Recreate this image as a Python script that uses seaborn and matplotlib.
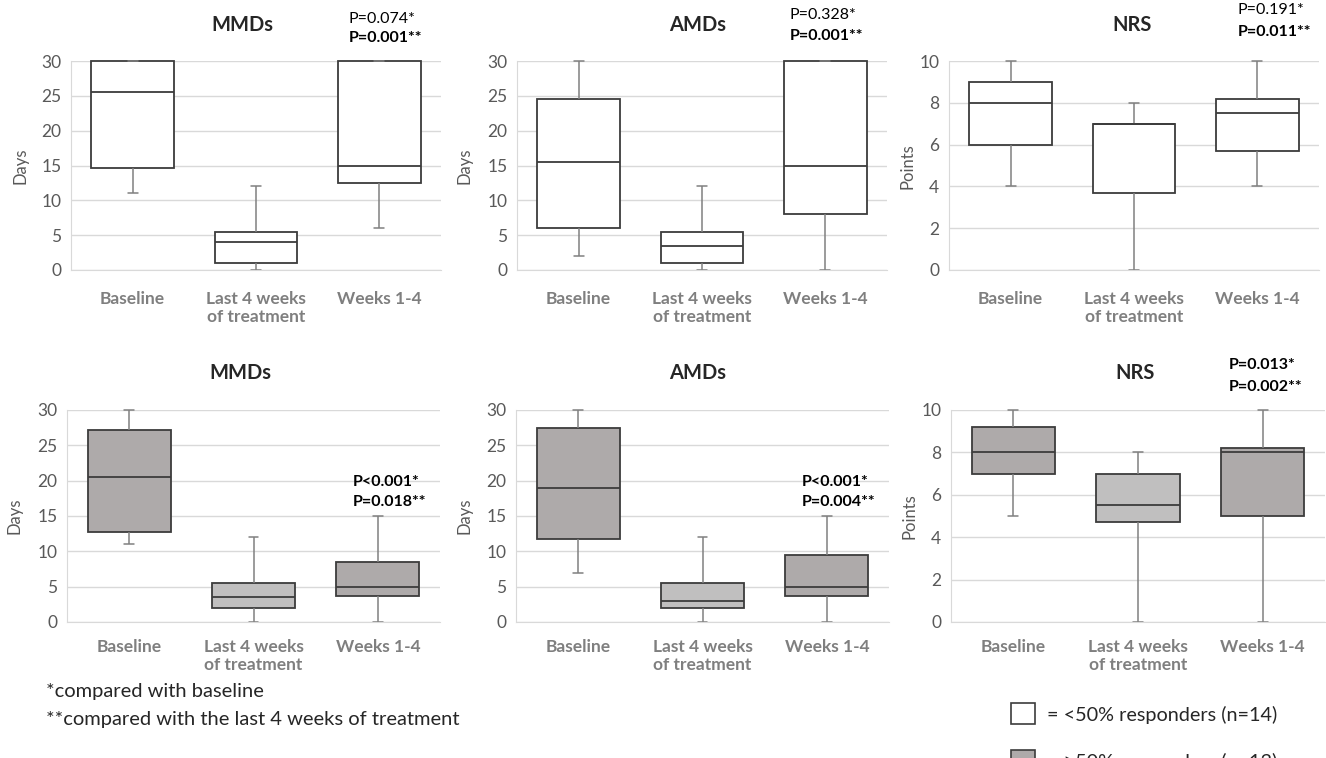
import numpy as np
import pandas as pd
import matplotlib.pyplot as plt
import matplotlib.transforms as mtransforms
from matplotlib.patches import Rectangle
import seaborn as sns

# five-number summaries: min, q1, median, q3, max
periods = ['Baseline', 'Last 4 weeks\nof treatment', 'Weeks 1-4']

low_mmd = [[11, 14.7, 25.5, 30, 30], [0, 1, 4, 5.5, 12], [6, 12.5, 15, 30, 30]]
low_amd = [[2, 6, 15.5, 24.5, 30], [0, 1, 3.5, 5.5, 12], [0, 8, 15, 30, 30]]
low_nrs = [[4, 6, 8, 9, 10], [0, 3.7, 7, 7, 8], [4, 5.7, 7.5, 8.2, 10]]

high_mmd = [[11, 12.7, 20.5, 27.2, 30], [0, 2, 3.5, 5.5, 12], [0, 3.7, 5, 8.5, 15]]
high_amd = [[7, 11.7, 19, 27.5, 30], [0, 2, 3, 5.5, 12], [0, 3.7, 5, 9.5, 15]]
high_nrs = [[5, 7, 8, 9.2, 10], [0, 4.7, 5.5, 7, 8], [0, 5, 8, 8.2, 10]]

p_top = [('P=0.074*', 'P=0.001**'), ('P=0.328*', 'P=0.001**'), ('P=0.191*', 'P=0.011**')]
p_bottom = [('P<0.001*', 'P=0.018**'), ('P<0.001*', 'P=0.004**'), ('P=0.013*', 'P=0.002**')]

titles = ['MMDs', 'AMDs', 'NRS']
ylabels = ['Days', 'Days', 'Points']


def to_long(groups):
    rows = []
    for period, vals in zip(periods, groups):
        for v in vals:
            rows.append({'period': period, 'value': v})
    return pd.DataFrame(rows)


sns.set_style('white')
plt.rcParams['font.family'] = ['Lato', 'DejaVu Sans']

fig = plt.figure(figsize=(13.26, 7.58), dpi=100)
W, H = 1326, 758


def px_axes(left, top, right, bottom):
    return fig.add_axes([left / W, 1 - bottom / H, (right - left) / W, (bottom - top) / H])


top_boxes = [(71, 61, 441, 270), (517, 61, 887, 270), (949, 61, 1319, 270)]
bot_boxes = [(67, 410, 440, 622), (516, 410, 889, 622), (951, 410, 1325, 622)]

white_pal = {p: 'white' for p in periods}
gray_pal = {periods[0]: '#aeaaaa', periods[1]: '#c0bfbf', periods[2]: '#aeaaaa'}


def draw_panel(box, groups, ymax, step, pal, pad):
    ax = px_axes(*box)
    sns.boxplot(data=to_long(groups), x='period', y='value', hue='period',
                order=periods, hue_order=periods, palette=pal, saturation=1,
                width=0.67, whis=(0, 100), linecolor='#3c3c3c', linewidth=1.3,
                whiskerprops=dict(color='#808080', linewidth=1.1),
                capprops=dict(color='#808080', linewidth=1.1),
                capwidths=0.08, showfliers=False, legend=False, ax=ax)
    for art in ax.lines + ax.patches:
        art.set_clip_on(False)
    ax.set_ylim(0, ymax)
    ax.set_xlim(-0.5, 2.5)
    ax.set_yticks(np.arange(0, ymax + 0.1, step))
    ax.set_xlabel('')
    ax.set_ylabel('')
    ax.yaxis.grid(True, color='#d9d9d9', linewidth=1)
    ax.set_axisbelow(True)
    for s in ['top', 'right']:
        ax.spines[s].set_visible(False)
    for s in ['left', 'bottom']:
        ax.spines[s].set_color('#d9d9d9')
    ax.tick_params(axis='y', length=0, labelsize=12.5, labelcolor='#595959', pad=7)
    ax.tick_params(axis='x', length=0, labelsize=12.5, labelcolor='#7f7f7f', pad=pad)
    for lab in ax.get_xticklabels():
        lab.set_fontweight('bold')
    return ax


def add_p(ax, x, y1, y2, texts, bold_first):
    tr = mtransforms.blended_transform_factory(ax.transData, ax.transAxes)
    ax.text(x, y1, texts[0], transform=tr, ha='left', va='center', fontsize=11.5,
            fontweight='bold' if bold_first else 'normal', color='black')
    ax.text(x, y2, texts[1], transform=tr, ha='left', va='center', fontsize=11.5,
            fontweight='bold', color='black')


top_groups = [low_mmd, low_amd, low_nrs]
bot_groups = [high_mmd, high_amd, high_nrs]
ymaxes = [30, 30, 10]
steps = [5, 5, 2]

top_title_x = [242, 698, 1132]
bot_title_x = [240, 698, 1135]
top_ylab_x = [20, 465, 908]
bot_ylab_x = [15, 465, 910]

top_p_pos = [(1.75, 1.20, 1.11), (1.71, 1.22, 1.12), (1.84, 1.244, 1.139)]
bot_p_pos = [(1.80, 0.66, 0.566), (1.80, 0.66, 0.566), (1.73, 1.212, 1.108)]

for i in range(3):
    ax = draw_panel(top_boxes[i], top_groups[i], ymaxes[i], steps[i], white_pal, 15)
    add_p(ax, *top_p_pos[i], p_top[i], bold_first=False)
    fig.text(top_title_x[i] / W, 1 - 25 / H, titles[i], ha='center', va='center',
             fontsize=14.5, fontweight='bold')
    fig.text(top_ylab_x[i] / W, 1 - 166 / H, ylabels[i], rotation=90, ha='center',
             va='center', fontsize=12, color='#595959')

    ax = draw_panel(bot_boxes[i], bot_groups[i], ymaxes[i], steps[i], gray_pal, 12)
    add_p(ax, *bot_p_pos[i], p_bottom[i], bold_first=True)
    fig.text(bot_title_x[i] / W, 1 - 373 / H, titles[i], ha='center', va='center',
             fontsize=14.5, fontweight='bold')
    fig.text(bot_ylab_x[i] / W, 1 - 516 / H, ylabels[i], rotation=90, ha='center',
             va='center', fontsize=12, color='#595959')

# footnotes
fig.text(46 / W, 1 - 691 / H, '*compared with baseline', ha='left', va='center', fontsize=14.5)
fig.text(46 / W, 1 - 719 / H, '**compared with the last 4 weeks of treatment',
         ha='left', va='center', fontsize=14.5)

# legend swatches
fig.add_artist(Rectangle((1011 / W, 1 - 724 / H), 24 / W, 21 / H, transform=fig.transFigure,
                         facecolor='white', edgecolor='#3c3c3c', linewidth=1.2))
fig.add_artist(Rectangle((1011 / W, 1 - 771 / H), 24 / W, 21 / H, transform=fig.transFigure,
                         facecolor='#aeaaaa', edgecolor='#3c3c3c', linewidth=1.2))
fig.text(1047 / W, 1 - 715 / H, '= <50% responders (n=14)', ha='left', va='center',
         fontsize=14.3)
fig.text(1047 / W, 1 - 762 / H, '= \u226550% responders (n=13)', ha='left', va='center',
         fontsize=14.3)

fig.savefig('out.png', dpi=100)
